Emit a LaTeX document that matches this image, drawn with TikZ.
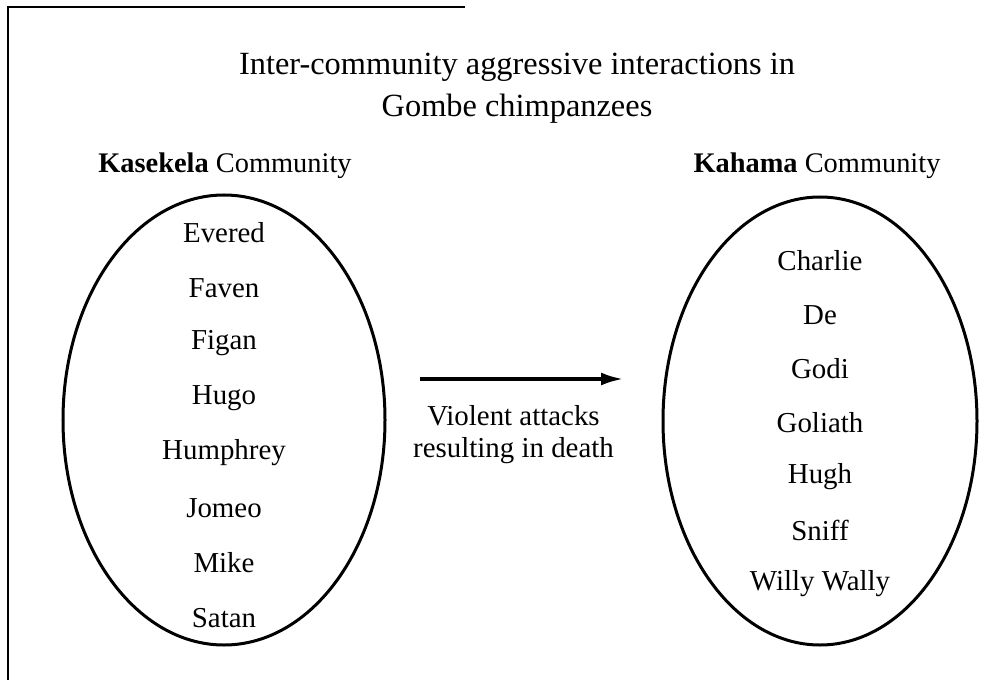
\documentclass[tikz,border=0pt]{standalone}
\usepackage{fontspec}
\setmainfont{Liberation Serif}
\usetikzlibrary{shapes.geometric,arrows.meta}

\tikzset{
  community/.style={draw, ellipse, line width=3bp, inner sep=0pt},
  chimp/.style={font=\fontsize{29}{32}\selectfont},
  heading/.style={font=\fontsize{28.5}{32}\selectfont}
}

\begin{document}
\begin{tikzpicture}[x=1bp, y=-1bp]
      \useasboundingbox (0,0) rectangle (995,680);
      % partial frame
      \draw[line width=2.2bp] (465,7) -- (8,7) -- (8,680);

      \node[font=\fontsize{32.5}{42}\selectfont, align=center] (title) at (517,88)
        {Inter-community aggressive interactions in\\ Gombe chimpanzees};

      \node[heading] (kasekela label) at (225,166) {\textbf{Kasekela} Community};
      \node[heading] (kahama label) at (817,166) {\textbf{Kahama} Community};

      \node[community, minimum width=322bp, minimum height=450bp] (kasekela) at (224,420) {};
      \node[community, minimum width=314bp, minimum height=448bp] (kahama) at (820,421) {};

      \foreach \name [count=\i from 0] in {Evered, Faven, Figan, Hugo, Humphrey, Jomeo, Mike, Satan}
        \node[chimp] (ks\i) at (224,233+55*\i) {\name};
      \foreach \name [count=\i from 0] in {Charlie, De, Godi, Goliath, Hugh, Sniff, Willy Wally}
        \node[chimp] (kh\i) at (820,261+53.8*\i) {\name};

      \coordinate (from) at (420,379);
      \coordinate (to) at (623,379);
      \draw[line width=3.2bp, -{Latex[length=22bp, width=13bp]}] (from) to
        node[chimp, below=22bp, align=center, xshift=-8bp]{Violent attacks\\ resulting in death} (to);
\end{tikzpicture}
\end{document}
